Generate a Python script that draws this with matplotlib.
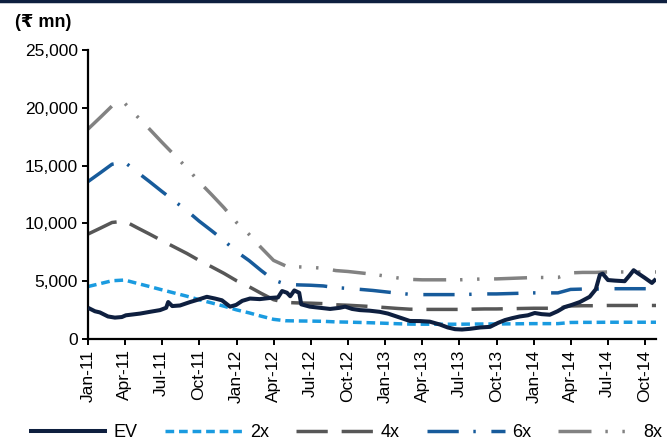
import numpy as np
import pandas as pd
import matplotlib
matplotlib.use('Agg')
import matplotlib.pyplot as plt
import matplotlib.dates as mdates
from matplotlib.lines import Line2D

plt.rcParams['font.family'] = ['Liberation Sans', 'DejaVu Sans']

# EV (Rs mn)
ev_dates = pd.to_datetime([
    '2011-01-01', '2011-01-18', '2011-01-30', '2011-02-19', '2011-03-08', '2011-03-25',
    '2011-04-04', '2011-05-09', '2011-06-02', '2011-06-27', '2011-07-12', '2011-07-17',
    '2011-07-27', '2011-08-15', '2011-09-09', '2011-09-28', '2011-10-20', '2011-11-09',
    '2011-11-26', '2011-12-16', '2011-12-31', '2012-01-15', '2012-02-03', '2012-02-27',
    '2012-03-23', '2012-04-12', '2012-04-22', '2012-05-04', '2012-05-12', '2012-05-22',
    '2012-06-03', '2012-06-08', '2012-06-29', '2012-07-24', '2012-08-18', '2012-09-11',
    '2012-09-24', '2012-10-11', '2012-10-30', '2012-11-23', '2012-12-18', '2013-01-07',
    '2013-01-24', '2013-02-10', '2013-03-02', '2013-03-27', '2013-04-20', '2013-05-15',
    '2013-06-03', '2013-06-21', '2013-07-08', '2013-07-28', '2013-08-22', '2013-09-15',
    '2013-10-05', '2013-10-22', '2013-11-08', '2013-11-27', '2013-12-17', '2014-01-03',
    '2014-01-20', '2014-02-09', '2014-02-28', '2014-03-18', '2014-04-04', '2014-04-24',
    '2014-05-18', '2014-06-02', '2014-06-12', '2014-06-19', '2014-07-02', '2014-07-19',
    '2014-08-12', '2014-08-24', '2014-09-03', '2014-09-13', '2014-09-30', '2014-10-18',
    '2014-10-28'])
ev = [
    2700, 2400, 2300, 1950, 1850, 1900,
    2050, 2200, 2350, 2500, 2700, 3200,
    2850, 2900, 3200, 3400, 3650, 3500,
    3350, 2800, 2950, 3300, 3500, 3450,
    3550, 3600, 4150, 4000, 3700, 4200,
    4000, 3000, 2800, 2700, 2600, 2700,
    2800, 2600, 2500, 2450, 2350, 2200,
    2000, 1800, 1560, 1550, 1500, 1250,
    1000, 850, 820, 880, 1000, 1050,
    1400, 1640, 1800, 1950, 2050, 2250,
    2150, 2100, 2400, 2770, 2950, 3200,
    3650, 4300, 5550, 5650, 5100, 5050,
    5000, 5500, 5950, 5700, 5300, 4850,
    5200]

# EBITDA base (Rs mn) used for the multiple bands
base_dates = pd.date_range('2011-01-01', '2014-10-01', freq='MS').append(pd.to_datetime(['2014-10-28']))
ebitda = [
    2270, 2400, 2520, 2550, 2410, 2270, 2130, 1990, 1850, 1700, 1560, 1420,
    1260, 1130, 990, 850, 790, 780, 775, 765, 740, 730, 715, 700,
    680, 660, 645, 640, 640, 640, 640, 645, 650, 650, 655, 660,
    665, 665, 665, 715, 720, 720, 725, 725, 725, 725, 725]
multiples = [2, 4, 6, 8]

fig = plt.figure(figsize=(6.67, 4.46), dpi=100)
ax = fig.add_axes([0.132, 0.2399, 0.8515, 0.648])

ax.plot(ev_dates, ev, color='#0e1f3f', lw=2.9, solid_capstyle='butt', label='EV', zorder=5)

styles = {
    2: dict(color='#1a9be0', dashes=(2.5, 1.4)),
    4: dict(color='#575757', dashes=(9.0, 4.0)),
    6: dict(color='#175b9b', dashes=(9.0, 4.2, 0.7, 4.5)),
    8: dict(color='#828282', dashes=(9.5, 4.0, 0.7, 4.2, 0.7, 4.2)),
}
base = np.array(ebitda)
for m in multiples:
    ax.plot(base_dates, base * m, lw=2.5, label=f'{m}x', **styles[m])

ax.set_ylim(0, 25000)
ax.set_yticks(np.arange(0, 25001, 5000))
ax.yaxis.set_major_formatter(plt.FuncFormatter(lambda v, p: f'{v:,.0f}'))
ax.set_xlim(pd.Timestamp('2011-01-01'), pd.Timestamp('2014-10-28'))
ax.xaxis.set_major_locator(mdates.MonthLocator(bymonth=[1, 4, 7, 10]))
ax.xaxis.set_major_formatter(mdates.DateFormatter('%b-%y'))
plt.setp(ax.get_xticklabels(), rotation=90)

for s in ['top', 'right']:
    ax.spines[s].set_visible(False)
for s in ['left', 'bottom']:
    ax.spines[s].set_linewidth(1.6)
    ax.spines[s].set_color('black')
ax.tick_params(axis='both', labelsize=12.5, width=1.4, length=4, direction='out')

fig.text(0.022, 0.95, '(₹ mn)', fontsize=13, fontweight='bold', va='center', ha='left')

# dark band at the top
fig.add_artist(Line2D([0, 1], [0.998, 0.998], transform=fig.transFigure, color='#0e1f3f', lw=2.5))

fig.legend(loc='center', bbox_to_anchor=(0.518, 0.03), ncol=5, frameon=False,
           fontsize=13, handlelength=4.3, columnspacing=1.5, handletextpad=0.4)

fig.savefig('out.png', dpi=100)
